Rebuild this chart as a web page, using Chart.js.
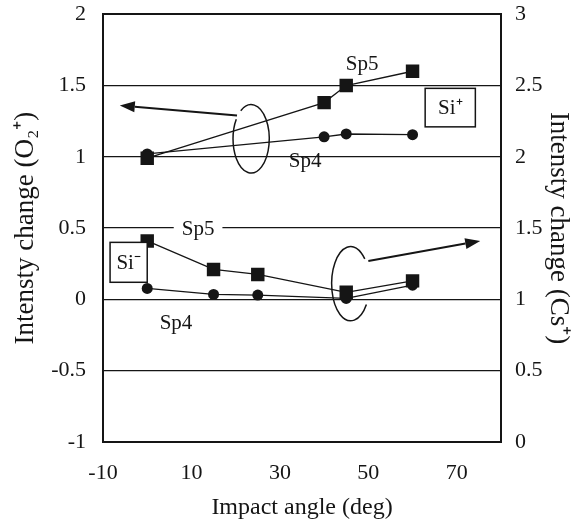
<!DOCTYPE html>
<html>
<head>
<meta charset="utf-8">
<script src="https://cdn.jsdelivr.net/npm/chart.js@4/dist/chart.umd.min.js"></script>
<style>
  html, body { margin: 0; padding: 0; background: #fff; }
</style>
</head>
<body>
<canvas id="chart" width="574" height="525"></canvas>
<script>
// tick labels
const xTicks = [-10, 10, 30, 50, 70];
const leftTicks = [-1, -0.5, 0, 0.5, 1, 1.5, 2];
const rightTicks = [0, 0.5, 1, 1.5, 2, 2.5, 3];

// Si+ (left axis, O2+)
const anglesPlus = [0, 40, 45, 60];
const siPlusSp5 = [0.99, 1.38, 1.5, 1.6];
const siPlusSp4 = [1.02, 1.14, 1.16, 1.155];

// Si- (right axis, Cs+)
const anglesMinus = [0, 15, 25, 45, 60];
const siMinusSp5 = [1.41, 1.21, 1.175, 1.05, 1.13];
const siMinusSp4 = [1.077, 1.035, 1.03, 1.007, 1.1];

const ink = "#151515";
const serif = "'Liberation Serif', 'Times New Roman', serif";

function pts(xs, ys) {
    return xs.map((x, i) => ({ x, y: ys[i] }));
}

function series(label, xs, ys, axis, style, radius) {
    return {
        label,
        data: pts(xs, ys),
        yAxisID: axis,
        showLine: true,
        borderColor: ink,
        borderWidth: 1.3,
        backgroundColor: ink,
        pointBackgroundColor: ink,
        pointBorderColor: ink,
        pointBorderWidth: 0,
        pointStyle: style,
        pointRadius: radius,
    };
}

// annotations, in data units
const labels = [
    { text: "Sp5", x: 48.6, y: 1.65, axis: "y" },
    { text: "Sp4", x: 35.7, y: 0.965, axis: "y" },
    { text: "Sp5", x: 11.5, y: 0.49, axis: "y", clear: true },
    { text: "Sp4", x: 6.5, y: -0.17, axis: "y" },
];
const boxes = [
    { text: "Si\u207A", x0: 62.85, x1: 74.2, y0: 1.21, y1: 1.48, axis: "y" },
    { text: "Si\u207B", x0: -8.4, x1: 0, y0: 0.12, y1: 0.4, axis: "y" },
];
const loops = [
    { cx: 23.5, cy: 1.126, rx: 4.1, ry: 0.24, from: -125, to: 215, axis: "y" },
    { cx: 46.0, cy: 1.11, rx: 4.3, ry: 0.26, from: 34, to: 318, axis: "y2" },
];
const arrows = [
    { x0: 20.3, y0: 1.29, x1: -6.2, y1: 1.36, axis: "y" },
    { x0: 50.0, y0: 1.27, x1: 75.3, y1: 1.41, axis: "y2" },
];

const notesPlugin = {
    id: "notes",
    afterDatasetsDraw(chart) {
        const ctx = chart.ctx;
        const sx = chart.scales.x;
        const P = (axis, x, y) => [sx.getPixelForValue(x), chart.scales[axis].getPixelForValue(y)];
        ctx.save();
        ctx.strokeStyle = ink;
        ctx.fillStyle = ink;
        ctx.lineWidth = 1.5;

        boxes.forEach(b => {
            const [xa, ya] = P(b.axis, b.x0, b.y1);
            const [xb, yb] = P(b.axis, b.x1, b.y0);
            ctx.fillStyle = "#fff";
            ctx.fillRect(xa, ya, xb - xa, yb - ya);
            ctx.strokeRect(xa, ya, xb - xa, yb - ya);
            ctx.fillStyle = ink;
            ctx.font = "21px " + serif;
            ctx.textAlign = "center";
            ctx.textBaseline = "middle";
            ctx.fillText(b.text, (xa + xb) / 2, (ya + yb) / 2 + 1);
        });

        loops.forEach(l => {
            const [cx, cy] = P(l.axis, l.cx, l.cy);
            const rx = Math.abs(sx.getPixelForValue(l.cx + l.rx) - cx);
            const ry = Math.abs(chart.scales[l.axis].getPixelForValue(l.cy + l.ry) - cy);
            ctx.beginPath();
            ctx.ellipse(cx, cy, rx, ry, 0, l.from * Math.PI / 180, l.to * Math.PI / 180);
            ctx.stroke();
        });

        arrows.forEach(a => {
            const [x0, y0] = P(a.axis, a.x0, a.y0);
            const [x1, y1] = P(a.axis, a.x1, a.y1);
            const ang = Math.atan2(y1 - y0, x1 - x0);
            const len = 15, half = 5.5;
            const bx = x1 - len * Math.cos(ang), by = y1 - len * Math.sin(ang);
            ctx.lineWidth = 2;
            ctx.beginPath();
            ctx.moveTo(x0, y0);
            ctx.lineTo(bx, by);
            ctx.stroke();
            ctx.beginPath();
            ctx.moveTo(x1, y1);
            ctx.lineTo(bx + half * Math.sin(ang), by - half * Math.cos(ang));
            ctx.lineTo(bx - half * Math.sin(ang), by + half * Math.cos(ang));
            ctx.closePath();
            ctx.fill();
        });

        ctx.font = "21px " + serif;
        ctx.textAlign = "center";
        ctx.textBaseline = "middle";
        labels.forEach(t => {
            const [x, y] = P(t.axis, t.x, t.y);
            if (t.clear) {
                const w = ctx.measureText(t.text).width + 16;
                ctx.fillStyle = "#fff";
                ctx.fillRect(x - w / 2, y - 8, w, 16);
                ctx.fillStyle = ink;
            }
            ctx.fillText(t.text, x, y);
        });
        ctx.restore();
    }
};

const tickFont = { family: serif, size: 22 };
const xTitleFont = { family: serif, size: 24 };
const yTitleFont = { family: serif, size: 27 };

new Chart(document.getElementById("chart"), {
    type: "scatter",
    data: {
        datasets: [
            series("Si+ Sp5", anglesPlus, siPlusSp5, "y", "rect", 9.5),
            series("Si+ Sp4", anglesPlus, siPlusSp4, "y", "circle", 5.5),
            series("Si- Sp5", anglesMinus, siMinusSp5, "y2", "rect", 9.5),
            series("Si- Sp4", anglesMinus, siMinusSp4, "y2", "circle", 5.5),
        ]
    },
    plugins: [notesPlugin],
    options: {
        responsive: false,
        animation: false,
        layout: { padding: { top: 14, left: 0, right: 0, bottom: 0 } },
        plugins: { legend: { display: false }, tooltip: { enabled: false } },
        scales: {
            x: {
                type: "linear",
                min: -10,
                max: 80,
                afterBuildTicks: s => { s.ticks = xTicks.map(v => ({ value: v })); },
                afterFit: s => { s.height = 83; },
                grid: { display: false, drawTicks: false },
                border: { display: true, color: ink, width: 2 },
                ticks: { color: ink, font: tickFont, padding: 18, maxRotation: 0, callback: v => String(v) },
                title: { display: true, text: "Impact angle (deg)", color: ink, font: xTitleFont, padding: { top: 0, bottom: 3 } },
            },
            y: {
                position: "left",
                min: -1,
                max: 2,
                afterBuildTicks: s => { s.ticks = leftTicks.map(v => ({ value: v })); },
                afterFit: s => { s.width = 103; },
                grid: {
                    color: ink,
                    lineWidth: c => (c.tick && c.tick.value === 2 ? 2 : 1.3),
                    drawTicks: true,
                    tickLength: 16,
                    tickColor: "rgba(0,0,0,0)",
                },
                border: { display: true, color: ink, width: 2 },
                ticks: { color: ink, font: tickFont, padding: 1, callback: v => String(v) },
                title: { display: true, text: "Intensty change (O\u2082\u207A)", color: ink, font: yTitleFont, padding: { top: 10, bottom: 0 } },
            },
            y2: {
                position: "right",
                min: 0,
                max: 3,
                afterBuildTicks: s => { s.ticks = rightTicks.map(v => ({ value: v })); },
                afterFit: s => { s.width = 73; },
                grid: { drawOnChartArea: false, drawTicks: true, tickLength: 13, tickColor: "rgba(0,0,0,0)" },
                border: { display: true, color: ink, width: 2 },
                ticks: { color: ink, font: tickFont, padding: 1, callback: v => String(v) },
                title: { display: true, text: "Intensty change (Cs\u207A)", color: ink, font: yTitleFont, padding: { top: 0, bottom: 0 } },
            },
        },
    },
});
</script>
</body>
</html>
